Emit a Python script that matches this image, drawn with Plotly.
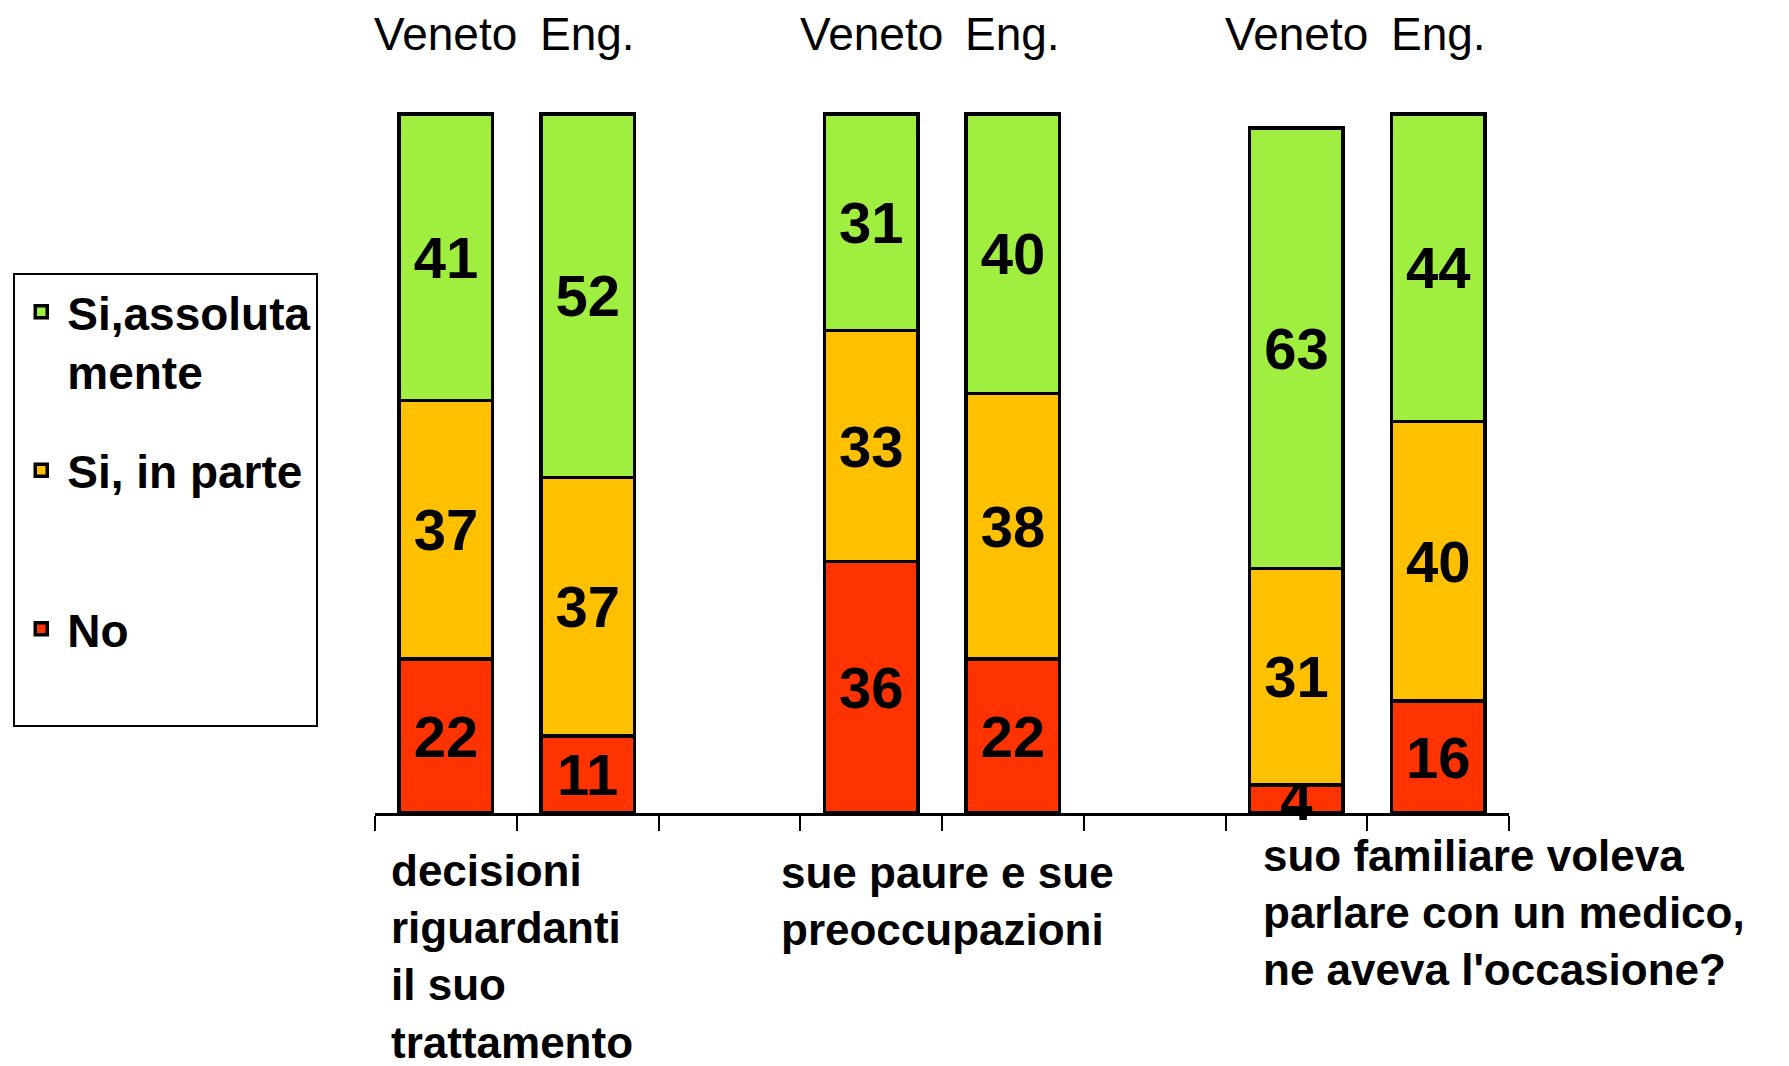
import plotly.graph_objects as go

# ---- data ----
questions = [
    "decisioni<br>riguardanti<br>il suo<br>trattamento",
    "sue paure e sue<br>preoccupazioni",
    "suo familiare voleva<br>parlare con un medico,<br>ne aveva l'occasione?",
]
regions = ["Veneto", "Eng."]
series_names = ["No", "Si, in parte", "Si,assoluta<br>mente"]
no_vals = [22, 11, 36, 22, 4, 16]
parte_vals = [37, 37, 33, 38, 31, 40]
assoluta_vals = [41, 52, 31, 40, 63, 44]

# ---- style ----
colors = ["#FF3300", "#FFC000", "#A0EE40"]
FONT = "Liberation Sans, Arial, sans-serif"
label_xshift = [14, -21, 35]
label_yshift = [-31, -33, -16]

n_groups = len(questions)
slots_per_group = len(regions) + 1
bar_x = [g * slots_per_group + r for g in range(n_groups) for r in range(len(regions))]
bar_region = [regions[r] for g in range(n_groups) for r in range(len(regions))]
n_slots = n_groups * slots_per_group - 1

fig = go.Figure()
# pad single-line legend entries with a blank line so entries are evenly spaced
legend_labels = [n if "<br>" in n else n + "<br>&nbsp;" for n in series_names]
n_series = len(series_names)
for i, vals in enumerate([no_vals, parte_vals, assoluta_vals]):
    fig.add_trace(go.Bar(
        x=bar_x, y=vals, name=legend_labels[i], legendgroup=str(i),
        legendrank=n_series - i,
        marker=dict(color=colors[i], line=dict(color="black", width=3.5)),
        width=0.66,
        text=[str(v) for v in vals], textposition="inside",
        insidetextanchor="middle", textangle=0, constraintext="none",
        textfont=dict(family=FONT, size=58, color="black", weight="bold"),
        cliponaxis=False, hoverinfo="skip",
    ))

annotations = []
for x, r in zip(bar_x, bar_region):
    annotations.append(dict(
        x=x, y=1, xref="x", yref="paper", text=r, showarrow=False,
        xanchor="center", yanchor="middle", yshift=66,
        font=dict(family=FONT, size=46, color="black"),
    ))
for g, q in enumerate(questions):
    annotations.append(dict(
        x=g * slots_per_group - 0.5, y=0, xref="x", yref="paper", text=q,
        showarrow=False, xanchor="left", yanchor="top", align="left",
        xshift=label_xshift[g], yshift=label_yshift[g],
        font=dict(family=FONT, size=44, color="black", weight="bold"),
    ))

fig.update_layout(
    barmode="stack",
    width=1789, height=1066,
    margin=dict(l=375, r=280, t=100, b=253, autoexpand=False),
    paper_bgcolor="white", plot_bgcolor="white",
    showlegend=True,
    legend=dict(
        x=-0.319, y=0.757, xanchor="left", yanchor="top",
        bordercolor="black", borderwidth=2, bgcolor="white",
        font=dict(family=FONT, size=46, color="black", weight="bold"),
        traceorder="grouped", tracegroupgap=36, valign="top",
        itemwidth=42,
    ),
    annotations=annotations,
    xaxis=dict(
        range=[-0.5, n_slots - 0.5],
        tickvals=[i - 0.5 for i in range(n_slots + 1)],
        showticklabels=False, ticks="outside", ticklen=15, tickwidth=2,
        tickcolor="black", showline=True, linecolor="black", linewidth=3,
        showgrid=False, zeroline=False,
    ),
    yaxis=dict(range=[0, 102], visible=False, showgrid=False, zeroline=False),
)

fig.write_html(
    "out.html",
    config={"displayModeBar": False},
    post_script="document.body.style.margin='0';",
)
